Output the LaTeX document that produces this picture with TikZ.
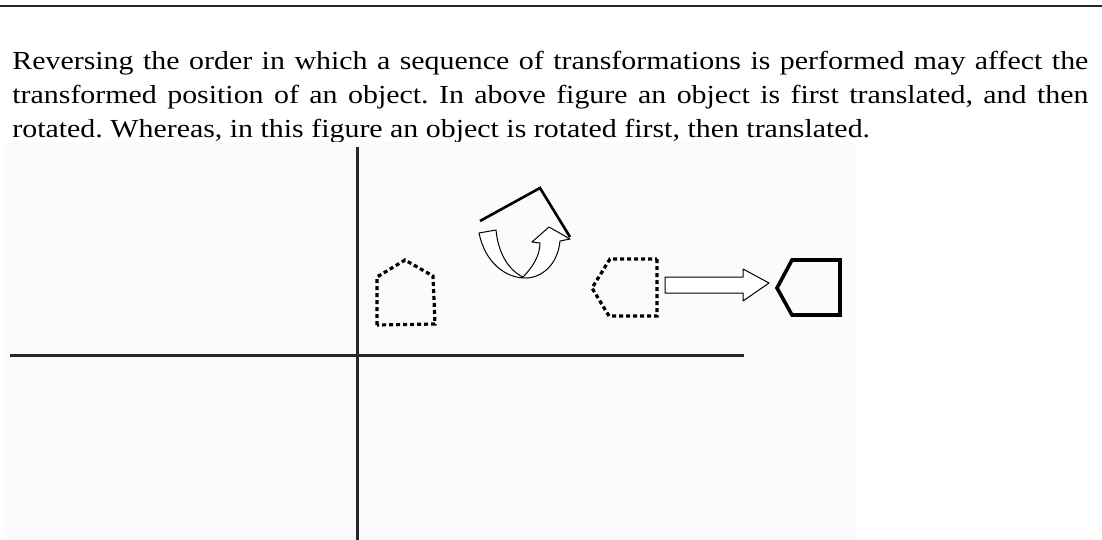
\documentclass[tikz,border=0pt]{standalone}
\usepackage{fontspec}
\setmainfont[FakeStretch=1.15]{Liberation Serif}
\usepackage{tikz}
\tikzset{
  axis_line/.style={line width=1.5pt, draw=black!85},
  rule_line/.style={line width=1pt, draw=black!85},
  dotted_shape/.style={line width=1.6pt, dash pattern=on 2pt off 1.5pt, draw=black},
  solid_shape/.style={line width=1.8pt, draw=black, line join=miter},
  bent_line/.style={line width=1.3pt, draw=black},
  hollow_arrow/.style={line width=0.5pt, draw=black, fill=white, line join=round},
  panel/.style={fill=black!1.5, draw=none}
}

\begin{document}
\begin{tikzpicture}[x=0.5pt, y=-0.5pt]
        \useasboundingbox (0,0) rectangle (1102,540);
        \fill[white] (0,0) rectangle (1102,540);
        \draw[rule_line] (0,6.5) -- (1102,6.5);
        \node[anchor=north west, inner sep=0pt, text width=538pt, align=justify,
              font=\fontsize{13pt}{17pt}\selectfont\frenchspacing] (caption) at (12,51)
          {Reversing the order in which a sequence of transformations is performed may affect the\linebreak
           transformed position of an object. In above figure an object is first translated, and then\linebreak
           rotated. Whereas, in this figure an object is rotated first, then translated.};
        \fill[panel] (5,142) rectangle (857,540);
        % axes
        \coordinate (ytop) at (357,147);
        \coordinate (ybot) at (357,540);
        \coordinate (xleft) at (10,355);
        \coordinate (xright) at (744,355);
        \draw[axis_line] (ytop) -- (ybot);
        \draw[axis_line] (xleft) -- (xright);
        % object at start
        \draw[dotted_shape] (377,325) -- (377,277) -- (405,260) -- (433,276) -- (435,324) -- cycle;
        % rotation
        \draw[bent_line] (480,221) -- (540,188) -- (570,237);
        \draw[hollow_arrow] (479,233) -- (496,230)
              .. controls (498,252) and (508,270) .. (523,277)
              .. controls (532,268) and (540,256) .. (540,243)
              -- (532,242) -- (549,227) -- (570,239) -- (560,241)
              .. controls (558,262) and (545,276) .. (528,278)
              .. controls (505,279) and (485,262) .. (479,233) -- cycle;
        % rotated object
        \draw[dotted_shape] (657,259) -- (657,316) -- (609,316) -- (592,288) -- (610,259) -- cycle;
        % translation
        \draw[hollow_arrow] (665,277) -- (743,277) -- (743,269) -- (769,283) -- (743,301)
              -- (743,293) -- (665,293) -- cycle;
        % translated object
        \draw[solid_shape] (792,260) -- (840,260) -- (840,315) -- (792,315) -- (777,288) -- cycle;
    \end{tikzpicture}
\end{document}
